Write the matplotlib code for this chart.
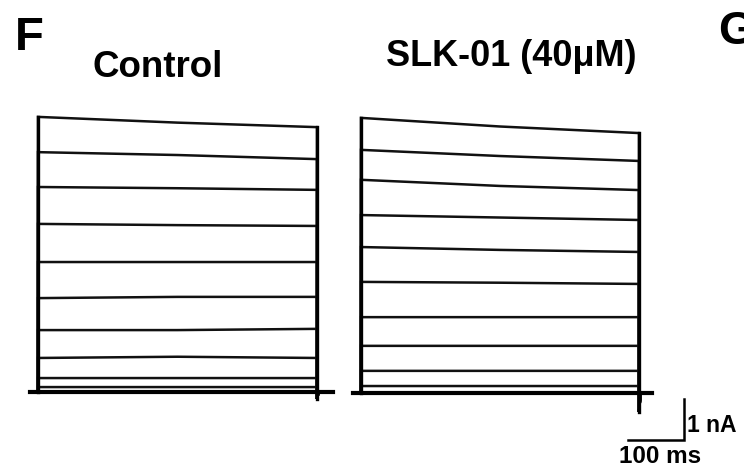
import matplotlib.pyplot as plt

plt.rcParams['font.family'] = ['Liberation Sans', 'DejaVu Sans']

times = [0, 250, 500]

# Outward K+ currents (nA) per voltage step, read at the time points above
control_traces = [
    [6.71, 6.57, 6.46],
    [5.85, 5.78, 5.68],
    [5.00, 4.97, 4.93],
    [4.10, 4.07, 4.05],
    [3.17, 3.17, 3.17],
    [2.29, 2.32, 2.32],
    [1.51, 1.51, 1.54],
    [0.83, 0.86, 0.83],
    [0.34, 0.34, 0.34],
    [0.12, 0.12, 0.12],
]
slk_traces = [
    [6.71, 6.50, 6.34],
    [5.93, 5.78, 5.66],
    [5.20, 5.05, 4.95],
    [4.34, 4.28, 4.22],
    [3.56, 3.49, 3.44],
    [2.71, 2.69, 2.66],
    [1.85, 1.85, 1.85],
    [1.15, 1.15, 1.15],
    [0.54, 0.54, 0.54],
    [0.17, 0.17, 0.17],
]
# tail current right after the step (nA), holding segments (ms)
control_tail = -0.17
slk_tail = -0.46
pre_hold = 14
post_hold = [28, 24]

W, H = 744, 467
fig = plt.figure(figsize=(W / 100, H / 100), dpi=100)


def panel(x0, x_end, y_base, tail, post, traces):
    # axis over the whole figure, scaled so 0..500 ms spans x0..x_end pixels
    sx = (x_end - x0) / 500.0
    sy = 41.0  # px per nA
    ax = fig.add_axes([0, 0, 1, 1])
    ax.set_xlim(-x0 / sx, (W - x0) / sx)
    ax.set_ylim(-(H - y_base) / sy, y_base / sy)
    ax.axis('off')
    ax.patch.set_alpha(0)
    for tr in traces:
        t = [-pre_hold, 0, 0] + times + [times[-1], times[-1] + 3, times[-1] + post]
        i = [0, 0, tr[0]] + tr + [tail, 0, 0]
        ax.plot(t, i, color='#111111', lw=1.8, solid_joinstyle='miter')
    ax.plot([-pre_hold, times[-1] + post], [0, 0], color='black', lw=3)
    ax.plot([0, 0], [0, traces[0][0]], color='black', lw=2.4)
    ax.plot([times[-1], times[-1]], [tail, traces[0][-1]], color='black', lw=2.4)
    return ax


panel(38, 317, 392, control_tail, post_hold[0], control_traces)
ax2 = panel(361, 639, 393, slk_tail, post_hold[1], slk_traces)

# scale bar: 100 ms, 1 nA
ax2.plot([481, 581, 581], [-1.15, -1.15, -0.15], color='black', lw=1.8,
         clip_on=False, solid_joinstyle='miter')

fig.text(15 / W, 1 - 50 / H, 'F', fontsize=34, fontweight='bold')
fig.text(718 / W, 1 - 44 / H, 'G', fontsize=34, fontweight='bold')
fig.text(158 / W, 1 - 77 / H, 'Control', fontsize=26.5, fontweight='bold', ha='center')
fig.text(511 / W, 1 - 66 / H, 'SLK-01 (40\u03bcM)', fontsize=26, fontweight='bold', ha='center')
fig.text(687 / W, 1 - 432 / H, '1 nA', fontsize=16.5, fontweight='bold')
fig.text(660 / W, 1 - 463 / H, '100 ms', fontsize=17.5, fontweight='bold', ha='center')

fig.savefig('out.png', dpi=100, facecolor='white')
